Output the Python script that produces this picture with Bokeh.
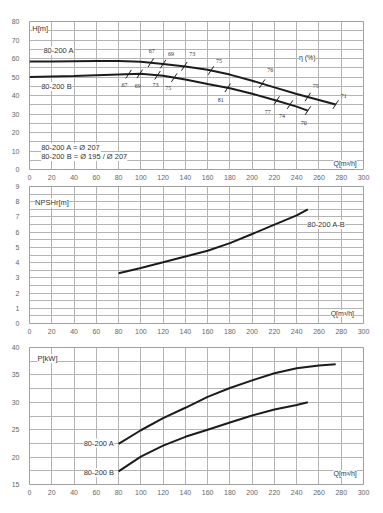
import numpy as np
from bokeh.plotting import figure
from bokeh.layouts import column
from bokeh.models import FixedTicker, Label, ColumnDataSource
from bokeh.embed import file_html
from bokeh.resources import INLINE

# ---------------- data ----------------
q_ticks = list(range(0, 301, 20))

# Head curves H[m]
q_A = [0, 20, 40, 60, 80, 100, 120, 140, 160, 180, 200, 220, 240, 260, 275]
h_A = [58.4, 58.4, 58.5, 58.6, 58.6, 58.3, 57.0, 55.7, 53.9, 51.3, 48.0, 44.4, 40.8, 37.6, 35.1]
q_B = [0, 20, 40, 60, 80, 100, 120, 140, 160, 180, 200, 220, 240, 250]
h_B = [50.0, 50.3, 50.6, 51.0, 51.4, 51.7, 50.7, 48.6, 46.2, 43.9, 40.9, 37.6, 34.0, 31.8]

# Efficiency marks (flow, label)
eff_A_q = [109, 120, 139, 163, 209, 250, 275]
eff_A_lbl = ["67", "69", "73", "75", "76", "75", "71"]
eff_B_q = [89, 99, 115, 130, 178, 222, 234, 250]
eff_B_lbl = ["67", "69", "73", "75", "81", "77", "74", "70"]

# NPSHr curve
q_N = [80, 100, 120, 140, 160, 180, 200, 220, 240, 250]
npsh = [3.3, 3.65, 4.02, 4.4, 4.78, 5.28, 5.88, 6.5, 7.1, 7.5]

# Power curves P[kW]
q_PA = [80, 100, 120, 140, 160, 180, 200, 220, 240, 260, 275]
p_A = [22.4, 24.9, 27.1, 29.0, 31.0, 32.6, 34.0, 35.3, 36.2, 36.7, 36.95]
q_PB = [80, 100, 120, 140, 160, 180, 200, 220, 240, 250]
p_B = [17.4, 20.1, 22.1, 23.7, 25.0, 26.3, 27.6, 28.7, 29.5, 30.0]

# ---------------- styling ----------------
FONT = "Liberation Sans"
GRID = "#b4b4b4"
CURVE = "#1c1c1c"
TXT = "#333333"
TICK_TXT = "#666666"

# label pixel offsets for efficiency numbers
eff_A_dx = [1, 8, 8, 8, 8, 8, 8]
eff_A_dy = [-12, -10, -12, -10, -14, -11, -9]
eff_B_dx = [-4, -2, -2, -6, -7, -9, -8, -4]
eff_B_dy = [11, 12, 10, 10, 12, 11, 11, 12]


def make_fig(y0, y1, yticks, yminor, h, top, bottom):
    p = figure(width=375, height=h, x_range=(0, 300), y_range=(y0, y1),
               output_backend="svg", toolbar_location=None,
               min_border_left=29, min_border_right=12,
               min_border_top=top, min_border_bottom=bottom)
    p.xaxis.ticker = FixedTicker(ticks=q_ticks)
    p.yaxis.ticker = FixedTicker(ticks=yticks, minor_ticks=yminor)
    for ax in (p.xaxis[0], p.yaxis[0]):
        ax.axis_line_color = None
        ax.major_tick_line_color = None
        ax.minor_tick_line_color = None
        ax.major_tick_out = 0
        ax.major_tick_in = 0
        ax.major_label_text_font = FONT
        ax.major_label_text_font_size = "7px"
        ax.major_label_text_color = TICK_TXT
    p.xaxis.major_label_standoff = 5
    p.yaxis.major_label_standoff = 6
    p.xgrid.grid_line_color = GRID
    p.ygrid.grid_line_color = GRID
    p.ygrid.minor_grid_line_color = GRID
    p.outline_line_color = "#a0a0a0"
    p.background_fill_color = "white"
    p.border_fill_color = "white"
    return p


def add_label(p, x, y, text, size="7.5px", align="left", color=TXT):
    p.add_layout(Label(x=x, y=y, text=text, text_font=FONT, text_font_size=size,
                       text_color=color, text_align=align, text_baseline="middle",
                       background_fill_color="white"))


# ---------------- panel 1: H ----------------
p1 = make_fig(0, 80, list(range(0, 81, 10)), list(range(0, 81, 5)), 182, 21, 13)
p1.line(q_A, h_A, line_color=CURVE, line_width=2)
p1.line(q_B, h_B, line_color=CURVE, line_width=2)

for qs, lbls, dxs, dys, qc, hc in ((eff_A_q, eff_A_lbl, eff_A_dx, eff_A_dy, q_A, h_A),
                                   (eff_B_q, eff_B_lbl, eff_B_dx, eff_B_dy, q_B, h_B)):
    hs = list(np.interp(qs, qc, hc))
    p1.segment(x0=[q - 2.5 for q in qs], y0=[h - 2.3 for h in hs],
               x1=[q + 2.5 for q in qs], y1=[h + 2.3 for h in hs],
               line_color=CURVE, line_width=1)
    src = ColumnDataSource(dict(x=qs, y=hs, t=lbls, dx=dxs, dy=dys))
    p1.text(x="x", y="y", text="t", x_offset="dx", y_offset="dy", source=src,
            text_font=FONT, text_font_size="6px", text_color=TXT,
            text_align="center", text_baseline="middle")

add_label(p1, 2.5, 76.3, "H[m]")
add_label(p1, 12.5, 64.2, "80-200 A")
add_label(p1, 10.5, 44.8, "80-200 B")
add_label(p1, 242, 60.6, "η (%)", size="7px")
add_label(p1, 10.5, 11.7, "80-200 A = Ø 207")
add_label(p1, 10.5, 7.0, "80-200 B = Ø 195 / Ø 207")
add_label(p1, 273, 3.1, "Q[m³/h]", size="7px")

# ---------------- panel 2: NPSH ----------------
p2 = make_fig(0, 9, list(range(0, 10)), [i * 0.5 for i in range(0, 19)], 155, 4, 14)
p2.line(q_N, npsh, line_color=CURVE, line_width=2)
add_label(p2, 5, 7.93, "NPSHr[m]")
add_label(p2, 249.5, 6.5, "80-200 A-B")
add_label(p2, 270.5, 0.66, "Q[m³/h]", size="7px")

# ---------------- panel 3: P ----------------
p3 = make_fig(15, 40, list(range(15, 41, 5)), [15 + i * 2.5 for i in range(0, 11)], 161, 10, 14)
p3.line(q_PA, p_A, line_color=CURVE, line_width=2)
p3.line(q_PB, p_B, line_color=CURVE, line_width=2)
add_label(p3, 7.2, 38.0, "P[kW]")
add_label(p3, 76, 22.56, "80-200 A", align="right")
add_label(p3, 76, 17.15, "80-200 B", align="right")
add_label(p3, 273, 16.95, "Q[m³/h]", size="7px")

layout = column(p1, p2, p3, spacing=0)
open("out.html", "w").write(file_html(layout, INLINE))
